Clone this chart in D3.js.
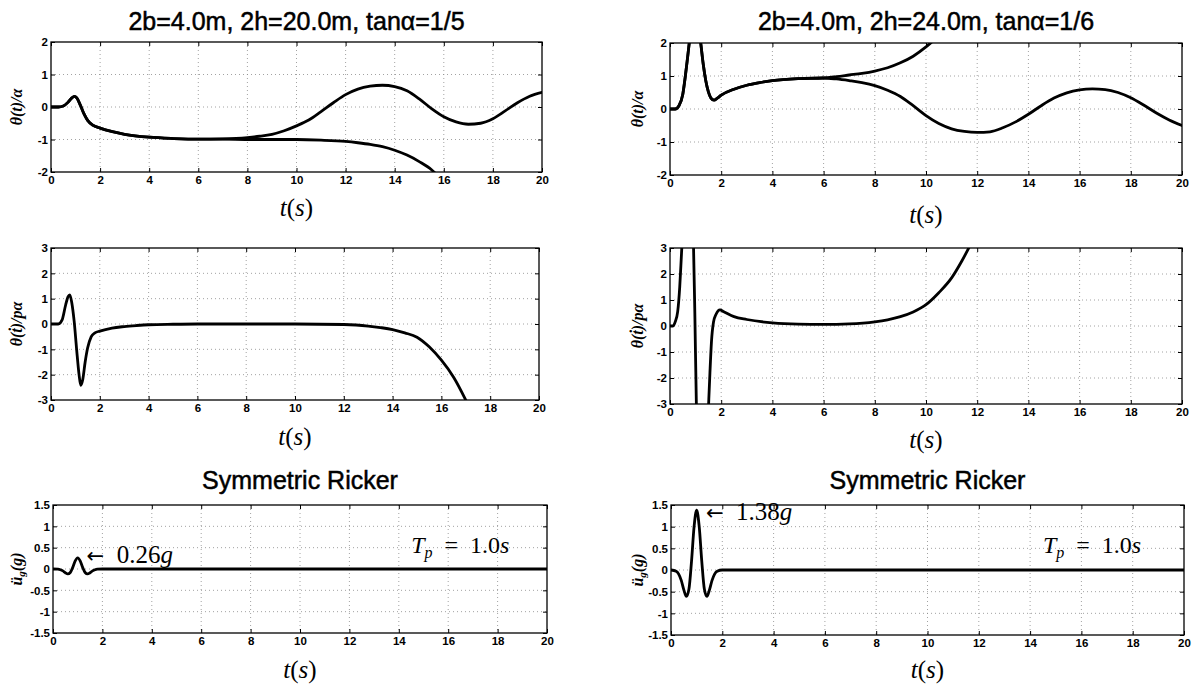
<!DOCTYPE html>
<html>
<head>
<meta charset="utf-8">
<script src="https://cdn.jsdelivr.net/npm/d3@7"></script>
<style>
  body { margin: 0; background: #fff; }
  svg { display: block; }
</style>
</head>
<body>
<svg id="chart" width="1193" height="689"></svg>
<script>
// ---- axis ticks ----
const timeTicks  = [0, 2, 4, 6, 8, 10, 12, 14, 16, 18, 20];
const thetaTicks = [-2, -1, 0, 1, 2];
const rateTicks  = [-3, -2, -1, 0, 1, 2, 3];
const accelTicks = [-1.5, -1, -0.5, 0, 0.5, 1, 1.5];

// ---- titles / annotations ----
const columnTitles = ["2b=4.0m, 2h=20.0m, tanα=1/5", "2b=4.0m, 2h=24.0m, tanα=1/6"];
const groundTitle  = "Symmetric Ricker";
const peakLabels   = ["0.26g", "1.38g"];
const periodValue  = "1.0";

// ---- block A (2h = 20 m): rotation θ/α ----
const aRockTime = [0, 0.3, 0.5, 0.7, 0.85, 0.95, 1.05, 1.2, 1.35, 1.5, 1.7, 2.0, 2.5, 3.0, 4.0, 5.0, 6.0, 7.0, 8.0, 8.5, 9.0, 9.5, 10.0, 10.5, 11.0, 11.5, 12.0, 12.5, 13.0, 13.5, 14.0, 14.5, 15.0, 15.5, 16.0, 16.5, 17.0, 17.5, 18.0, 18.5, 19.0, 19.5, 20.0];
const aRockTheta = [0, 0, 0.03, 0.15, 0.28, 0.33, 0.28, 0.05, -0.22, -0.42, -0.56, -0.65, -0.76, -0.84, -0.93, -0.97, -0.99, -0.98, -0.94, -0.9, -0.84, -0.73, -0.58, -0.4, -0.14, 0.13, 0.38, 0.55, 0.64, 0.67, 0.63, 0.5, 0.25, -0.05, -0.3, -0.46, -0.53, -0.5, -0.36, -0.12, 0.13, 0.33, 0.45];
const aOverTime  = [0, 0.3, 0.5, 0.7, 0.85, 0.95, 1.05, 1.2, 1.35, 1.5, 1.7, 2.0, 2.5, 3.0, 4.0, 5.0, 6.0, 7.0, 8.0, 9.0, 10.0, 11.0, 12.0, 12.5, 13.0, 13.5, 14.0, 14.5, 15.0, 15.5, 15.8];
const aOverTheta = [0, 0, 0.03, 0.15, 0.28, 0.33, 0.28, 0.05, -0.22, -0.42, -0.56, -0.65, -0.76, -0.84, -0.93, -0.97, -0.99, -0.99, -1.0, -1.0, -1.0, -1.02, -1.06, -1.1, -1.15, -1.22, -1.33, -1.48, -1.68, -1.93, -2.15];

// ---- block B (2h = 24 m): rotation θ/α ----
const bOverTime  = [0, 0.2, 0.35, 0.5, 0.6, 0.7, 0.8, 0.95, 1.1, 1.2, 1.3, 1.4, 1.5, 1.6, 1.72, 1.85, 2.0, 2.5, 3.0, 3.5, 4.0, 5.0, 6.0, 6.5, 7.0, 7.5, 8.0, 8.5, 9.0, 9.5, 10.0, 10.4];
const bOverTheta = [0, 0, 0.1, 0.45, 1.0, 1.65, 2.3, 2.9, 2.6, 2.0, 1.35, 0.85, 0.52, 0.33, 0.27, 0.33, 0.42, 0.6, 0.72, 0.8, 0.86, 0.92, 0.94, 0.98, 1.03, 1.08, 1.15, 1.25, 1.4, 1.6, 1.88, 2.15];
const bRockTime  = [0, 0.2, 0.35, 0.5, 0.6, 0.7, 0.8, 0.95, 1.1, 1.2, 1.3, 1.4, 1.5, 1.6, 1.72, 1.85, 2.0, 2.5, 3.0, 3.5, 4.0, 5.0, 6.0, 6.5, 7.0, 7.5, 8.0, 8.5, 9.0, 9.5, 10.0, 10.5, 11.0, 11.5, 12.0, 12.5, 13.0, 13.5, 14.0, 14.5, 15.0, 15.5, 16.0, 16.5, 17.0, 17.5, 18.0, 18.5, 19.0, 19.5, 20.0];
const bRockTheta = [0, 0, 0.1, 0.45, 1.0, 1.65, 2.3, 2.9, 2.6, 2.0, 1.35, 0.85, 0.52, 0.33, 0.27, 0.33, 0.42, 0.6, 0.72, 0.8, 0.86, 0.92, 0.94, 0.91, 0.86, 0.8, 0.71, 0.57, 0.38, 0.1, -0.2, -0.44, -0.6, -0.68, -0.71, -0.69, -0.57, -0.39, -0.16, 0.1, 0.33, 0.49, 0.58, 0.61, 0.59, 0.5, 0.34, 0.12, -0.12, -0.33, -0.5];

// ---- angular velocity θ̇/(pα) ----
const aRateTime  = [0, 0.3, 0.45, 0.6, 0.7, 0.77, 0.85, 0.95, 1.05, 1.15, 1.22, 1.3, 1.4, 1.5, 1.65, 1.8, 2.0, 2.5, 3.0, 3.5, 4.0, 5.0, 6.0, 8.0, 10.0, 12.0, 12.5, 13.0, 13.5, 14.0, 14.5, 15.0, 15.5, 16.0, 16.5, 17.1];
const aRate      = [0, 0, 0.15, 0.75, 1.08, 1.15, 0.85, 0.1, -1.0, -2.0, -2.42, -2.2, -1.5, -0.95, -0.5, -0.35, -0.28, -0.16, -0.1, -0.06, -0.03, -0.01, 0, 0, 0, -0.02, -0.04, -0.08, -0.14, -0.22, -0.35, -0.52, -0.9, -1.43, -2.1, -3.2];
const bRateTime  = [0, 0.12, 0.2, 0.3, 0.38, 0.45, 0.55, 0.7, 0.82, 0.88, 0.92, 0.97, 1.03, 1.1, 1.25, 1.4, 1.5, 1.56, 1.62, 1.7, 1.8, 1.95, 2.1, 2.5, 3.0, 4.0, 5.0, 6.0, 7.0, 8.0, 8.5, 9.0, 9.5, 10.0, 10.5, 11.0, 11.4, 11.8];
const bRate      = [0, 0, 0.15, 0.55, 1.5, 2.8, 4.6, 6.0, 5.2, 4.2, 3.0, 0.5, -3.0, -5.2, -6.2, -5.6, -3.2, -1.8, -0.6, 0.15, 0.45, 0.62, 0.55, 0.36, 0.25, 0.12, 0.07, 0.06, 0.08, 0.16, 0.24, 0.36, 0.54, 0.82, 1.28, 1.85, 2.5, 3.25];

// ---- ground acceleration (g) ----
const pulseTime  = [0, 0.2, 0.3, 0.4, 0.5, 0.6, 0.7, 0.8, 0.9, 1.0, 1.1, 1.2, 1.3, 1.4, 1.5, 1.6, 1.7, 1.8, 2.0, 20];
const pulseSmall = [0, -0.005, -0.018, -0.045, -0.087, -0.116, -0.083, 0.037, 0.189, 0.26, 0.189, 0.037, -0.083, -0.116, -0.087, -0.045, -0.018, -0.005, 0, 0];
const pulseLarge = [0, -0.03, -0.095, -0.24, -0.46, -0.61, -0.44, 0.2, 1.0, 1.38, 1.0, 0.2, -0.44, -0.61, -0.46, -0.24, -0.095, -0.03, 0, 0];

const zip = (ts, vs) => ts.map((t, i) => [t, vs[i]]);

const svg = d3.select("#chart");
const tickFont = "'Liberation Sans', Arial, sans-serif";
const mathFont = "'Liberation Serif', 'DejaVu Serif', serif";
let clipId = 0;

function drawPanel(p) {
  const x = d3.scaleLinear().domain([0, 20]).range([p.left, p.right]);
  const y = d3.scaleLinear().domain(p.yDomain).range([p.bottom, p.top]);
  const w = p.right - p.left, h = p.bottom - p.top;
  const g = svg.append("g");

  // dotted grid
  const grid = g.append("g").attr("stroke", "#8a8a8a").attr("stroke-width", 0.8).attr("stroke-dasharray", "1,3");
  p.xTicks.slice(1, -1).forEach(t => grid.append("line").attr("x1", x(t)).attr("x2", x(t)).attr("y1", p.top).attr("y2", p.bottom));
  p.yTicks.slice(1, -1).forEach(v => grid.append("line").attr("x1", p.left).attr("x2", p.right).attr("y1", y(v)).attr("y2", y(v)));

  // curves, clipped to the axes box
  const cid = "clip" + (clipId++);
  g.append("clipPath").attr("id", cid).append("rect").attr("x", p.left).attr("y", p.top).attr("width", w).attr("height", h);
  const line = d3.line().x(d => x(d[0])).y(d => y(d[1])).curve(d3.curveMonotoneX);
  const curves = g.append("g").attr("clip-path", `url(#${cid})`);
  p.series.forEach(s => curves.append("path").attr("d", line(s)).attr("fill", "none")
    .attr("stroke", "#000").attr("stroke-width", 2.8).attr("stroke-linejoin", "round").attr("stroke-linecap", "round"));

  // axes with inward ticks on all four sides
  const fmt = d => String(d);
  const styleAxis = sel => {
    sel.select(".domain").remove();
    sel.selectAll("line").attr("stroke", "#000");
    sel.selectAll("text").attr("font-family", tickFont).attr("font-weight", "bold").attr("font-size", 11.5).attr("fill", "#000");
  };
  g.append("g").attr("transform", `translate(0,${p.bottom})`)
    .call(d3.axisBottom(x).tickValues(p.xTicks).tickFormat(fmt).tickSize(-4).tickPadding(4)).call(styleAxis);
  g.append("g").attr("transform", `translate(0,${p.top})`)
    .call(d3.axisTop(x).tickValues(p.xTicks).tickFormat("").tickSize(-4)).call(styleAxis);
  g.append("g").attr("transform", `translate(${p.left},0)`)
    .call(d3.axisLeft(y).tickValues(p.yTicks).tickFormat(fmt).tickSize(-4).tickPadding(3)).call(styleAxis);
  g.append("g").attr("transform", `translate(${p.right},0)`)
    .call(d3.axisRight(y).tickValues(p.yTicks).tickFormat("").tickSize(-4)).call(styleAxis);

  // box
  g.append("rect").attr("x", p.left).attr("y", p.top).attr("width", w).attr("height", h)
    .attr("fill", "none").attr("stroke", "#000").attr("stroke-width", 1.3);

  // title
  if (p.title) {
    g.append("text").attr("x", (p.left + p.right) / 2).attr("y", p.titleY)
      .attr("text-anchor", "middle").attr("font-family", tickFont).attr("font-size", p.titleSize)
      .attr("fill", "#000").attr("stroke", "#000").attr("stroke-width", 0.5).text(p.title);
  }

  // x label t(s)
  const xl = g.append("text").attr("x", (p.left + p.right) / 2).attr("y", p.xLabelY)
    .attr("text-anchor", "middle").attr("font-family", mathFont).attr("font-size", 25).attr("fill", "#000");
  xl.append("tspan").attr("font-style", "italic").text("t");
  xl.append("tspan").text("(");
  xl.append("tspan").attr("font-style", "italic").text("s");
  xl.append("tspan").text(")");

  // y label
  const yl = g.append("text").attr("transform", `translate(${p.yLabelX},${(p.top + p.bottom) / 2}) rotate(-90)`)
    .attr("text-anchor", "middle").attr("font-family", mathFont).attr("font-weight", "bold")
    .attr("font-style", "italic").attr("font-size", 16).attr("fill", "#000");
  p.yLabel(yl);

  return { x, y, g };
}

function thetaLabel(t) { t.text("θ(t)/α"); }
function rateLabel(t) { t.text("θ(ṫ)/pα"); }
function accelLabel(t) {
  t.append("tspan").text("ü");
  t.append("tspan").attr("font-size", 11).attr("dy", 3).text("g");
  t.append("tspan").attr("dy", -3).text("(g)");
}

function annotate(panel, xPos, yPos, peak) {
  const a = panel.g.append("text").attr("x", panel.x(xPos)).attr("y", panel.y(yPos))
    .attr("font-family", mathFont).attr("font-size", 25).attr("fill", "#000");
  a.append("tspan").attr("font-family", "'DejaVu Sans', sans-serif").attr("font-size", 21).text("←");
  a.append("tspan").text("\u2002" + peak.slice(0, -1));
  a.append("tspan").attr("font-style", "italic").text(peak.slice(-1));
}
function periodNote(panel, xPos, yPos) {
  const a = panel.g.append("text").attr("x", panel.x(xPos)).attr("y", panel.y(yPos))
    .attr("font-family", mathFont).attr("font-size", 24).attr("fill", "#000");
  a.append("tspan").attr("font-style", "italic").text("T");
  a.append("tspan").attr("font-style", "italic").attr("font-size", 16).attr("dy", 5).text("p");
  a.append("tspan").attr("dy", -5).text("\u2002=\u2002" + periodValue);
  a.append("tspan").attr("font-style", "italic").text("s");
}

// ---- left column ----
drawPanel({ left: 51, right: 542, top: 42, bottom: 172, yDomain: [-2, 2], xTicks: timeTicks, yTicks: thetaTicks,
  series: [zip(aRockTime, aRockTheta), zip(aOverTime, aOverTheta)],
  title: columnTitles[0], titleSize: 25, titleY: 30, xLabelY: 216, yLabelX: 22, yLabel: thetaLabel });
drawPanel({ left: 51, right: 539, top: 248, bottom: 400, yDomain: [-3, 3], xTicks: timeTicks, yTicks: rateTicks,
  series: [zip(aRateTime, aRate)], xLabelY: 445, yLabelX: 22, yLabel: rateLabel });
const bl = drawPanel({ left: 53, right: 547, top: 505, bottom: 633, yDomain: [-1.5, 1.5], xTicks: timeTicks, yTicks: accelTicks,
  series: [zip(pulseTime, pulseSmall)], title: groundTitle, titleSize: 25, titleY: 489, xLabelY: 678, yLabelX: 22, yLabel: accelLabel });
annotate(bl, 1.36, 0.15, peakLabels[0]);
periodNote(bl, 14.5, 0.37);

// ---- right column ----
drawPanel({ left: 670, right: 1182, top: 43, bottom: 175, yDomain: [-2, 2], xTicks: timeTicks, yTicks: thetaTicks,
  series: [zip(bOverTime, bOverTheta), zip(bRockTime, bRockTheta)],
  title: columnTitles[1], titleSize: 25, titleY: 30, xLabelY: 223, yLabelX: 643, yLabel: thetaLabel });
drawPanel({ left: 670, right: 1182, top: 248, bottom: 404, yDomain: [-3, 3], xTicks: timeTicks, yTicks: rateTicks,
  series: [zip(bRateTime, bRate)], xLabelY: 448, yLabelX: 643, yLabel: rateLabel });
const br = drawPanel({ left: 671, right: 1184, top: 505, bottom: 635, yDomain: [-1.5, 1.5], xTicks: timeTicks, yTicks: accelTicks,
  series: [zip(pulseTime, pulseLarge)], title: groundTitle, titleSize: 25, titleY: 489, xLabelY: 678, yLabelX: 643, yLabel: accelLabel });
annotate(br, 1.36, 1.15, peakLabels[1]);
periodNote(br, 14.5, 0.4);
</script>
</body>
</html>
